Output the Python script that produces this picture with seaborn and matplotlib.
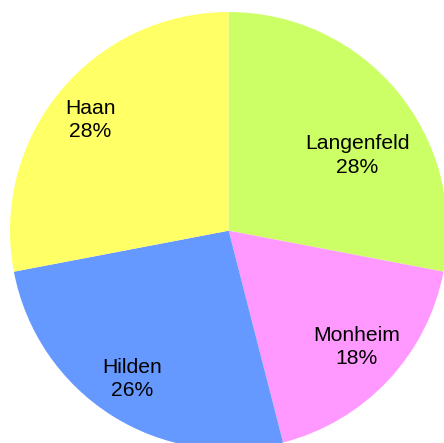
import matplotlib
matplotlib.use("Agg")
import matplotlib.pyplot as plt
import numpy as np
import seaborn as sns

# Share of each town
towns = ["Langenfeld", "Monheim", "Hilden", "Haan"]
shares = [28, 18, 26, 28]
colors = ["#CCFF66", "#FF99FF", "#6699FF", "#FFFF66"]

# Label placement per slice: distance from centre (in radii) and angular nudge (deg)
label_radius = [0.68, 0.79, 0.81, 0.81]
label_shift = [-9.3, 0.8, -0.8, 1.0]

sns.set_theme(style="white")
plt.rcParams["font.family"] = ["Liberation Sans", "DejaVu Sans"]

fig = plt.figure(figsize=(4.44, 4.43), dpi=100)
ax = fig.add_axes([10 / 444, -6.4 / 443, 437.4 / 444, 437.4 / 443])

wedges, _ = ax.pie(
    shares,
    colors=colors,
    startangle=90,
    counterclock=False,
    radius=1,
    wedgeprops=dict(linewidth=0, antialiased=True),
)

total = sum(shares)
for w, name, val, r, d in zip(wedges, towns, shares, label_radius, label_shift):
    mid = np.deg2rad((w.theta1 + w.theta2) / 2 + d)
    ax.text(
        r * np.cos(mid),
        r * np.sin(mid),
        f"{name}\n{100 * val / total:.0f}%",
        ha="center",
        va="center",
        fontsize=15.2,
        color="black",
        linespacing=1.3,
    )

ax.set_xlim(-1, 1)
ax.set_ylim(-1, 1)
ax.set_aspect("equal")
ax.axis("off")

fig.savefig("out.png", dpi=100, facecolor="white")
